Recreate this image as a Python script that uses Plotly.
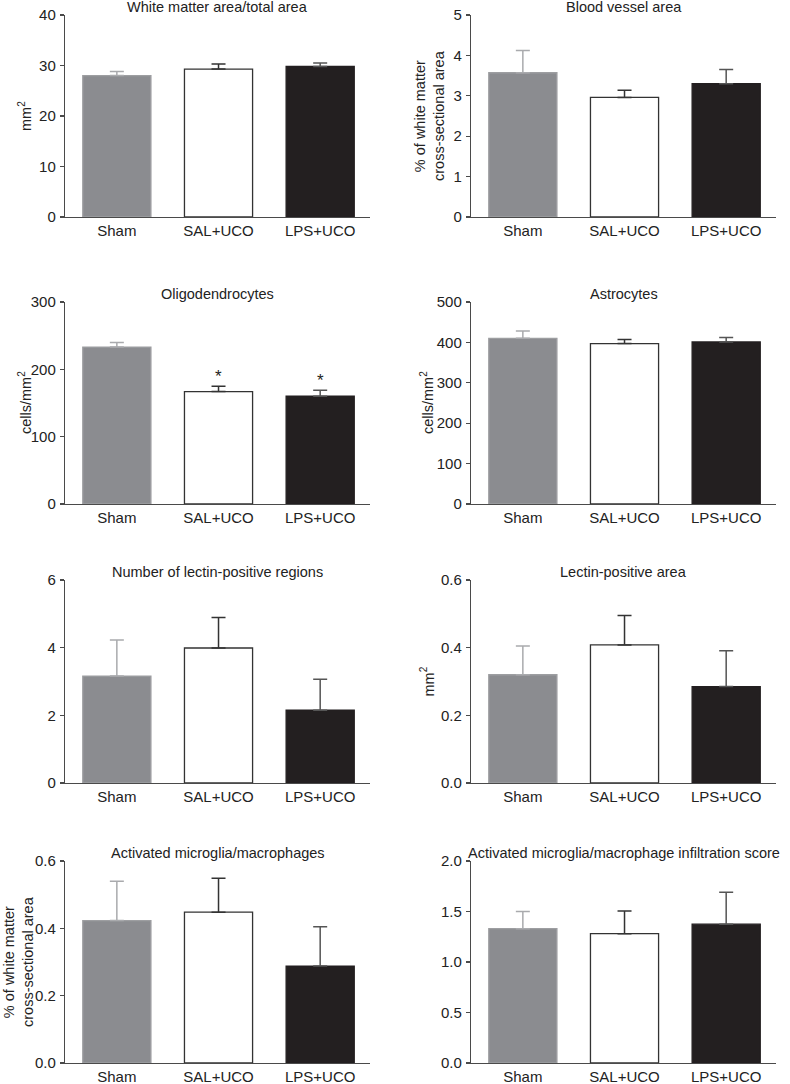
import plotly.graph_objects as go

groups = ["Sham", "SAL+UCO", "LPS+UCO"]

wm_area_mean = [28.0, 29.3, 29.8]
wm_area_sem = [0.8, 1.0, 0.7]
vessel_mean = [3.57, 2.96, 3.30]
vessel_sem = [0.55, 0.18, 0.35]
oligo_mean = [233, 167, 160]
oligo_sem = [7, 8, 9]
astro_mean = [410, 397, 401]
astro_sem = [18, 10, 11]
lectin_n_mean = [3.16, 3.99, 2.15]
lectin_n_sem = [1.07, 0.90, 0.92]
lectin_area_mean = [0.320, 0.408, 0.285]
lectin_area_sem = [0.085, 0.087, 0.106]
micro_mean = [0.423, 0.448, 0.288]
micro_sem = [0.117, 0.101, 0.117]
score_mean = [1.33, 1.28, 1.375]
score_sem = [0.17, 0.225, 0.315]

panels = [
    ("White matter area/total area", "mm<sup>2</sup>", wm_area_mean, wm_area_sem, [0, 10, 20, 30, 40], None),
    ("Blood vessel area", "% of white matter<br>cross-sectional area", vessel_mean, vessel_sem, [0, 1, 2, 3, 4, 5], None),
    ("Oligodendrocytes", "cells/mm<sup>2</sup>", oligo_mean, oligo_sem, [0, 100, 200, 300], None),
    ("Astrocytes", "cells/mm<sup>2</sup>", astro_mean, astro_sem, [0, 100, 200, 300, 400, 500], None),
    ("Number of lectin-positive regions", "", lectin_n_mean, lectin_n_sem, [0, 2, 4, 6], None),
    ("Lectin-positive area", "mm<sup>2</sup>", lectin_area_mean, lectin_area_sem, [0.0, 0.2, 0.4, 0.6], ".1f"),
    ("Activated microglia/macrophages", "% of white matter<br>cross-sectional area", micro_mean, micro_sem, [0.0, 0.2, 0.4, 0.6], ".1f"),
    ("Activated microglia/macrophage infiltration score", "", score_mean, score_sem, [0.0, 0.5, 1.0, 1.5, 2.0], ".1f"),
]
sig_marks = {2: ["", "*", "*"]}

W, H = 790, 1084
col_x = [(65, 370), (471, 776)]
row_y = [(15, 217), (302, 504), (580, 783), (861, 1063)]
ytitle_x = {0: 25, 1: 429, 2: 25, 3: 427, 5: 427, 6: 18}

fills = ["#8b8c90", "#ffffff", "#231f20"]
edges = ["#9d9ea1", "#333333", "#231f20"]
errc = ["#a9aaad", "#333333", "#555555"]

FONT = "Liberation Sans, Arial, Helvetica, sans-serif"
TXT = "#222222"
AX = "#4a4a4a"


def px(x):
    return x / W


def py(y):
    return 1 - y / H


fig = go.Figure()
layout = dict(width=W, height=H, margin=dict(l=0, r=0, t=0, b=0, pad=0),
              paper_bgcolor="white", plot_bgcolor="white", showlegend=False,
              font=dict(family=FONT, size=14, color=TXT))
annotations = []

for i, (title, ytitle, means, sems, ticks, fmt) in enumerate(panels):
    r, c = divmod(i, 2)
    x0, x1 = col_x[c]
    yt, yb = row_y[r]
    k = i + 1
    xa = "x" if k == 1 else f"x{k}"
    ya = "y" if k == 1 else f"y{k}"
    for g in range(3):
        fig.add_trace(go.Bar(
            x=[groups[g]], y=[means[g]], xaxis=xa, yaxis=ya, width=0.67,
            marker=dict(color=fills[g], line=dict(color=edges[g], width=1.3)),
            error_y=dict(type="data", symmetric=False, array=[sems[g]], arrayminus=[0],
                         color=errc[g], thickness=1.5, width=7),
        ))
    layout[f"xaxis{'' if k == 1 else k}"] = dict(
        domain=[px(x0), px(x1)], anchor=ya, range=[-0.51, 2.49],
        showline=True, linecolor=AX, linewidth=1.2, ticks="", showgrid=False,
        tickfont=dict(size=15, color=TXT), categoryorder="array", categoryarray=groups,
        fixedrange=True, automargin=False)
    layout[f"yaxis{'' if k == 1 else k}"] = dict(
        domain=[py(yb), py(yt)], anchor=xa, range=[0, ticks[-1]],
        tickvals=ticks, ticktext=[(format(t, fmt) if fmt else str(t)) for t in ticks],
        showline=True, linecolor=AX, linewidth=1.2, ticks="outside", ticklen=4,
        tickcolor=AX, tickwidth=1.2, showgrid=False, zeroline=False,
        tickfont=dict(size=15, color=TXT), ticklabelstandoff=1, fixedrange=True,
        automargin=False)
    annotations.append(dict(text=title, xref="paper", yref="paper",
                            x=px((x0 + x1) / 2), y=py(yt - 8),
                            xanchor="center", yanchor="middle", showarrow=False,
                            font=dict(size=14.5, color=TXT)))
    if ytitle:
        annotations.append(dict(text=ytitle, xref="paper", yref="paper",
                                x=px(ytitle_x[i]), y=py((yt + yb) / 2),
                                xanchor="center", yanchor="middle", textangle=-90,
                                showarrow=False, font=dict(size=14.5, color=TXT)))
    if i in sig_marks:
        for g, s in enumerate(sig_marks[i]):
            if s:
                annotations.append(dict(text=s, xref=xa, yref=ya, x=groups[g],
                                        y=means[g] + sems[g], yanchor="bottom", yshift=-2,
                                        showarrow=False, font=dict(size=17, color=TXT)))

layout["annotations"] = annotations
fig.update_layout(**layout)
fig.write_html(
    "out.html",
    config={"displayModeBar": False, "staticPlot": True},
    post_script="document.body.style.margin='0px';"
                "document.documentElement.style.overflow='hidden';"
                "document.body.style.overflow='hidden';",
)
